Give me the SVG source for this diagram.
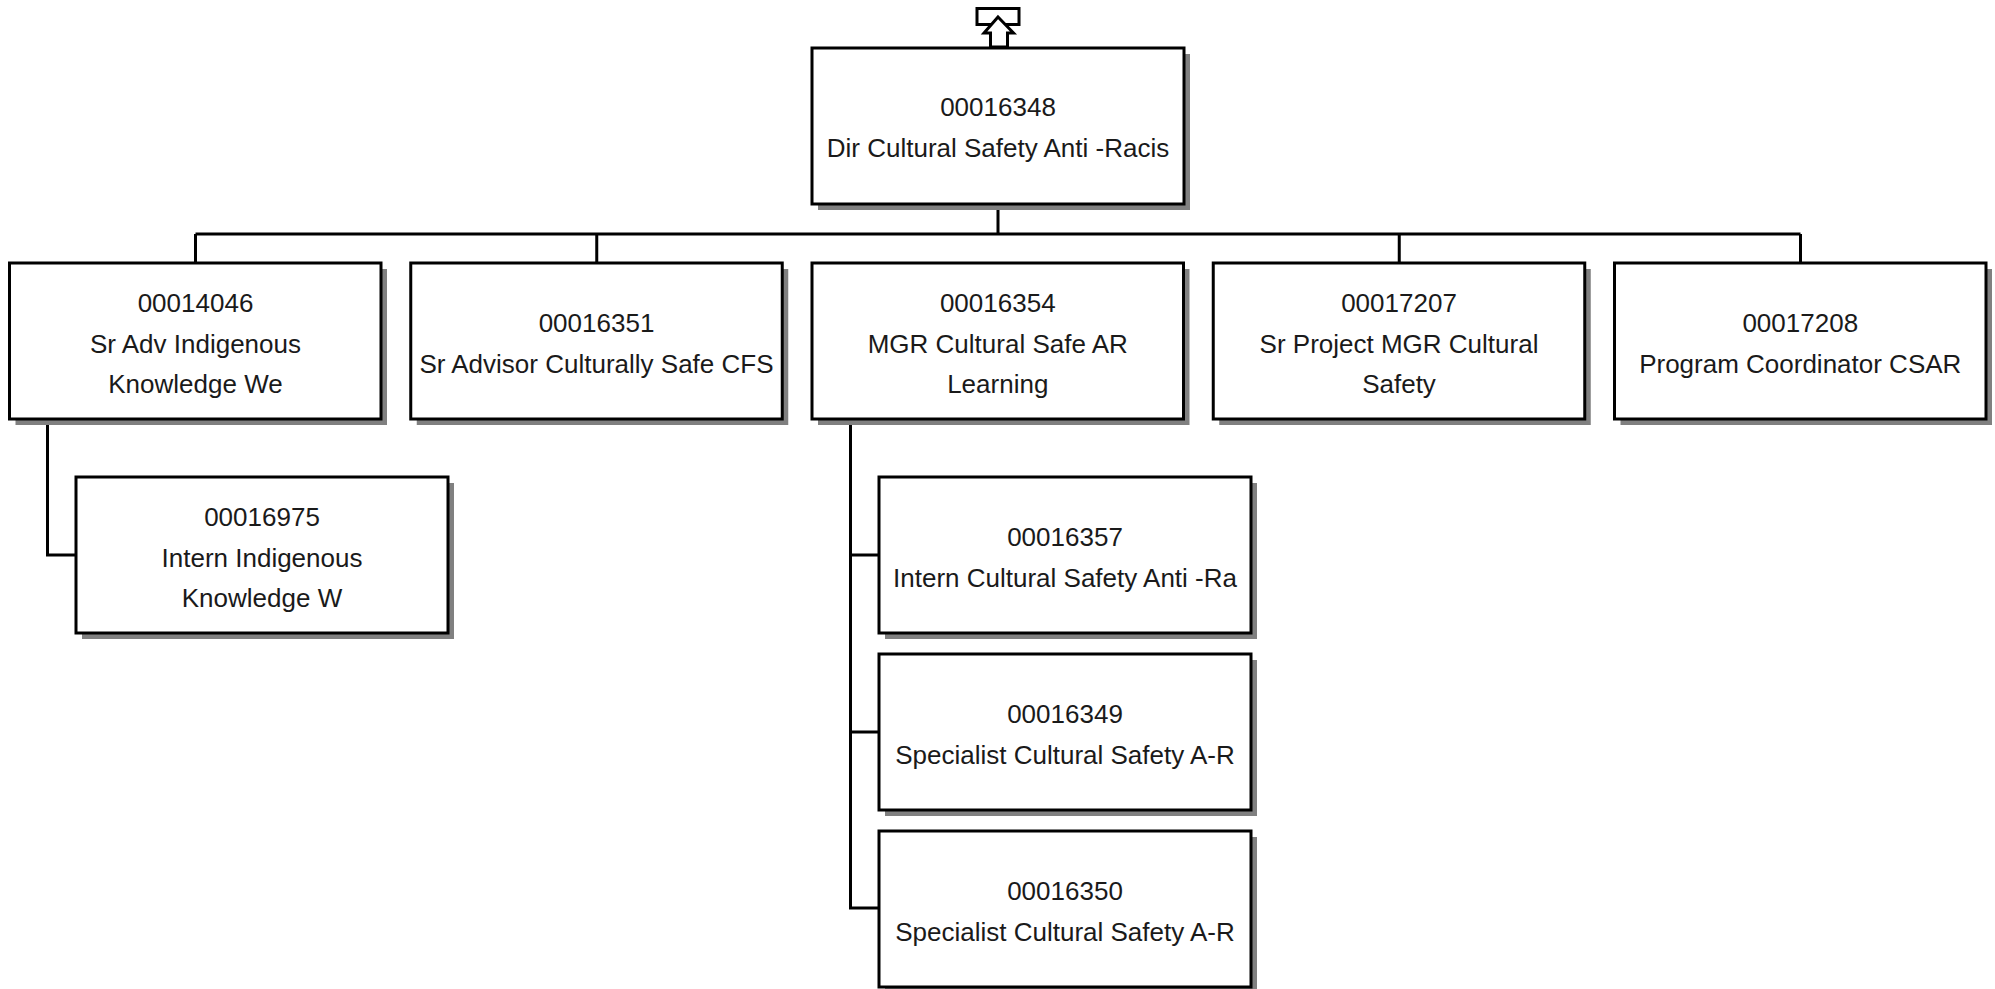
<svg xmlns="http://www.w3.org/2000/svg" width="1995" height="989" viewBox="0 0 1995 989">
<style>
.bg{fill:#ffffff}
.sh{fill:#808080}
.bx{fill:#ffffff;stroke:#000000;stroke-width:3}
.t{font-family:"Liberation Sans",Arial,sans-serif;font-size:26px;fill:#1a1a1a;text-anchor:middle}
.ln{fill:none;stroke:#000000;stroke-width:3}
</style>
<rect class="bg" x="0" y="0" width="1995" height="989"/>
<g id="connectors">
<path class="ln" d="M998,204 V234 M195.5,234 H1800.5 M195.5,234 V263 M596.75,234 V263 M1399.25,234 V263 M1800.5,234 V263"/>
<path class="ln" d="M47.5,419 V555 H76"/>
<path class="ln" d="M850.5,419 V908 H879 M850.5,555 H879 M850.5,732 H879"/>
</g>
<g id="up-arrow">
<rect x="977" y="8.5" width="42" height="16" fill="#ffffff" stroke="#000000" stroke-width="3"/>
<polygon points="998,17 1013.5,33 1007.5,33 1007.5,47 990.5,47 990.5,33 984,33" fill="#ffffff" stroke="#000000" stroke-width="3" stroke-linejoin="miter"/>
</g>
<g id="n00016348">
<rect class="sh" x="818" y="54" width="372" height="156"/>
<rect class="bx" x="812" y="48" width="372" height="156"/>
<text class="t" x="998" y="116">00016348</text>
<text class="t" x="998" y="157">Dir Cultural Safety Anti -Racis</text>
</g>
<g id="n00014046">
<rect class="sh" x="15.5" y="269" width="371.5" height="156"/>
<rect class="bx" x="9.5" y="263" width="371.5" height="156"/>
<text class="t" x="195.5" y="312">00014046</text>
<text class="t" x="195.5" y="352.5">Sr Adv Indigenous</text>
<text class="t" x="195.5" y="393">Knowledge We</text>
</g>
<g id="n00016351">
<rect class="sh" x="416.75" y="269" width="371.5" height="156"/>
<rect class="bx" x="410.75" y="263" width="371.5" height="156"/>
<text class="t" x="596.5" y="331.5">00016351</text>
<text class="t" x="596.5" y="372.5">Sr Advisor Culturally Safe CFS</text>
</g>
<g id="n00016354">
<rect class="sh" x="818" y="269" width="371.5" height="156"/>
<rect class="bx" x="812" y="263" width="371.5" height="156"/>
<text class="t" x="997.75" y="312">00016354</text>
<text class="t" x="997.75" y="352.5">MGR Cultural Safe AR</text>
<text class="t" x="997.75" y="393">Learning</text>
</g>
<g id="n00017207">
<rect class="sh" x="1219.25" y="269" width="371.5" height="156"/>
<rect class="bx" x="1213.25" y="263" width="371.5" height="156"/>
<text class="t" x="1399" y="312">00017207</text>
<text class="t" x="1399" y="352.5">Sr Project MGR Cultural</text>
<text class="t" x="1399" y="393">Safety</text>
</g>
<g id="n00017208">
<rect class="sh" x="1620.5" y="269" width="371.5" height="156"/>
<rect class="bx" x="1614.5" y="263" width="371.5" height="156"/>
<text class="t" x="1800.25" y="331.5">00017208</text>
<text class="t" x="1800.25" y="372.5">Program Coordinator CSAR</text>
</g>
<g id="n00016975">
<rect class="sh" x="82" y="483" width="372" height="156"/>
<rect class="bx" x="76" y="477" width="372" height="156"/>
<text class="t" x="262" y="526">00016975</text>
<text class="t" x="262" y="566.5">Intern Indigenous</text>
<text class="t" x="262" y="607">Knowledge W</text>
</g>
<g id="n00016357">
<rect class="sh" x="885" y="483" width="372" height="156"/>
<rect class="bx" x="879" y="477" width="372" height="156"/>
<text class="t" x="1065" y="545.5">00016357</text>
<text class="t" x="1065" y="586.5">Intern Cultural Safety Anti -Ra</text>
</g>
<g id="n00016349">
<rect class="sh" x="885" y="660" width="372" height="156"/>
<rect class="bx" x="879" y="654" width="372" height="156"/>
<text class="t" x="1065" y="722.5">00016349</text>
<text class="t" x="1065" y="763.5">Specialist Cultural Safety A-R</text>
</g>
<g id="n00016350">
<rect class="sh" x="885" y="837" width="372" height="156"/>
<rect class="bx" x="879" y="831" width="372" height="156"/>
<text class="t" x="1065" y="899.5">00016350</text>
<text class="t" x="1065" y="940.5">Specialist Cultural Safety A-R</text>
</g>
</svg>
